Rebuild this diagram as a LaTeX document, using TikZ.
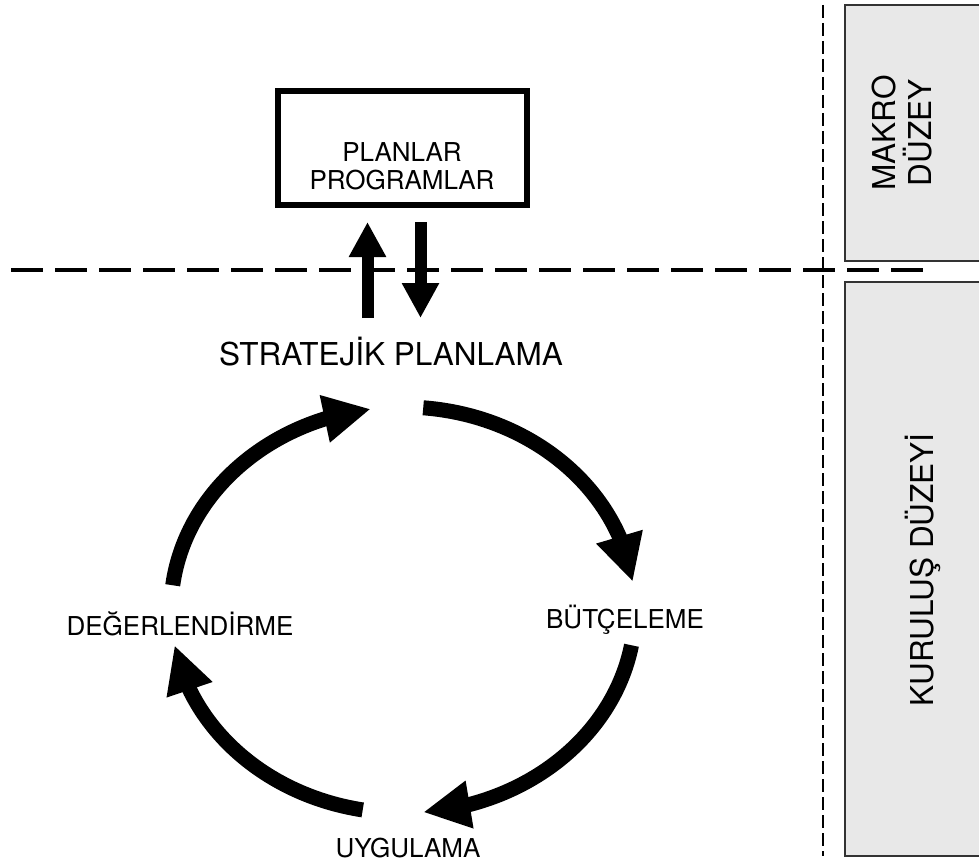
\documentclass[tikz,border=0pt]{standalone}
\usepackage{fontspec}
\setmainfont{TeX Gyre Heros}
\usetikzlibrary{arrows.meta,bending,calc}

\tikzset{
  lbl/.style={font=\fontsize{26}{28}\selectfont, inner sep=0pt, anchor=base},
  biglbl/.style={font=\fontsize{31.5}{36}\selectfont, inner sep=0pt},
  cyc/.style={line width=15pt, -{Triangle[length=47pt,width=45pt,flex]}},
  vert/.style={line width=12pt, -{Triangle[length=35pt,width=35pt]}},
  panel/.style={fill=black!9, draw=black!80, line width=1.5pt},
  levelline/.style={line width=4.5pt, dash pattern=on 32pt off 12pt},
  sideline/.style={line width=2pt, dash pattern=on 13pt off 5pt},
  planbox/.style={draw, line width=6pt, minimum width=249pt, minimum height=113pt, inner sep=0pt},
}

\begin{document}
\begin{tikzpicture}[x=1pt,y=1pt]
  \useasboundingbox (0,0) rectangle (979,-864);

  % right-hand level panels
  \draw[panel] (845,-5) rectangle (992,-261);
  \draw[panel] (845,-282) rectangle (992,-856);
  \node[biglbl, rotate=90, align=center] (macro) at (902.5,-133) {MAKRO\\DÜZEY};
  \node[biglbl, rotate=90, anchor=base] (org) at (933,-570) {KURULUŞ DÜZEYİ};

  % level separators
  \draw[sideline] (822.7,-5) -- (822.7,-856);
  \draw[levelline] (11,-270) -- (923,-270);

  % macro-level plans
  \node[planbox] (box) at (402.5,-148) {};
  \node[lbl, align=center, anchor=center] (boxtxt) at (402,-166) {PLANLAR\\PROGRAMLAR};

  % strategic planning and its link to the plans
  \node[biglbl, anchor=base] (strat) at (391,-365) {STRATEJİK PLANLAMA};
  \coordinate (upfoot) at (367.5,-318);
  \coordinate (uphead) at (367.5,-222);
  \coordinate (dntop) at (420.5,-222);
  \coordinate (dnhead) at (420.5,-318);
  \draw[vert] (upfoot) -- (uphead);
  \draw[vert] (dntop) -- (dnhead);

  % cycle labels
  \node[lbl] (budget) at (625,-628) {BÜTÇELEME};
  \node[lbl] (apply) at (408,-857) {UYGULAMA};
  \node[lbl] (eval) at (180,-635) {DEĞERLENDİRME};

  % planning cycle
  \coordinate (c) at (403,-610);
  \draw[cyc] ($(c)+(173:232pt and 203pt)$) arc[start angle=173, end angle=98, x radius=232pt, y radius=203pt];
  \draw[cyc] ($(c)+(85:232pt and 203pt)$) arc[start angle=85, end angle=8, x radius=232pt, y radius=203pt];
  \draw[cyc] ($(c)+(-10:232pt and 203pt)$) arc[start angle=-10, end angle=-85, x radius=232pt, y radius=203pt];
  \draw[cyc] ($(c)+(260:232pt and 203pt)$) arc[start angle=260, end angle=190, x radius=232pt, y radius=203pt];
\end{tikzpicture}
\end{document}
